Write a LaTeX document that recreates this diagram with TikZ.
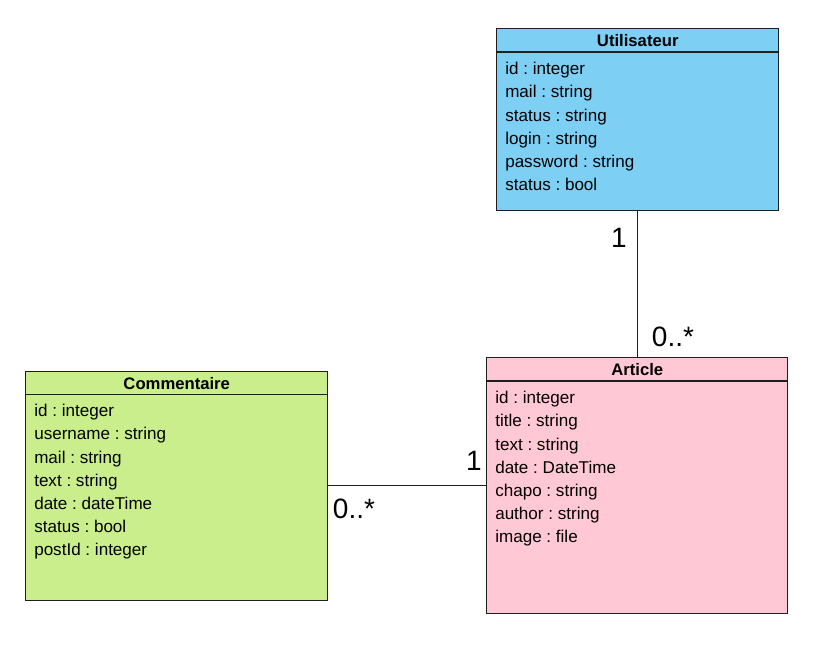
\documentclass[tikz,border=0pt]{standalone}
\usepackage{fontspec}
\setmainfont{Liberation Sans}
\usetikzlibrary{positioning}
\frenchspacing

\definecolor{userblue}{RGB}{126,207,244}
\definecolor{commgreen}{RGB}{201,238,139}
\definecolor{artpink}{RGB}{255,200,212}
\definecolor{edge}{RGB}{30,30,30}

\tikzset{
  cls/.style={draw=edge, line width=1.1pt, inner sep=0pt},
  head/.style={draw=edge, line width=1.1pt, minimum height=18pt, inner sep=0pt,
    font=\fontsize{12.5}{15}\selectfont\bfseries},
  attrs/.style={align=left, inner sep=0pt, font=\fontsize{12.8}{17.4}\selectfont\frenchspacing},
  mult/.style={inner sep=0pt, font=\fontsize{21}{21}\selectfont}
}

\begin{document}
\begin{tikzpicture}[x=0.75pt,y=-0.75pt]
\useasboundingbox (0,0) rectangle (826,651);

% classes
\node[cls,fill=userblue,minimum width=211.5pt,minimum height=136.5pt,anchor=north west] (user) at (496,28) {};
\node[head,fill=userblue,minimum width=211.5pt,minimum height=17.5pt,below=0pt of user.north] (userh) {Utilisateur};
\node[attrs,below right=7pt and 6.75pt of userh.south west] (usera)
  {id : integer\\mail : string\\status : string\\login : string\\password : string\\status : bool};

\node[cls,fill=commgreen,minimum width=226.5pt,minimum height=171.75pt,anchor=north west] (comm) at (25,371) {};
\node[head,fill=commgreen,minimum width=226.5pt,minimum height=17pt,below=0pt of comm.north] (commh) {Commentaire};
\node[attrs,below right=6.75pt and 6.75pt of commh.south west] (comma)
  {id : integer\\username : string\\mail : string\\text : string\\date : dateTime\\status : bool\\postId : integer};

\node[cls,fill=artpink,minimum width=225.75pt,minimum height=192pt,anchor=north west] (art) at (486,357) {};
\node[head,fill=artpink,minimum width=225.75pt,minimum height=17.5pt,below=0pt of art.north] (arth) {Article};
\node[attrs,below right=7pt and 6.75pt of arth.south west] (arta)
  {id : integer\\title : string\\text : string\\date : DateTime\\chapo : string\\author : string\\image : file};

% associations
\draw[edge,line width=1.1pt] (user.south) -- (user.south |- art.north);
\draw[edge,line width=1.1pt] (art.west) -- (art.west -| comm.east);

\node[mult] (m1) at (619,238) {1};
\node[mult] (m2) at (673,337) {0..*};
\node[mult] (m3) at (474,461) {1};
\node[mult] (m4) at (354,509) {0..*};
\end{tikzpicture}
\end{document}
